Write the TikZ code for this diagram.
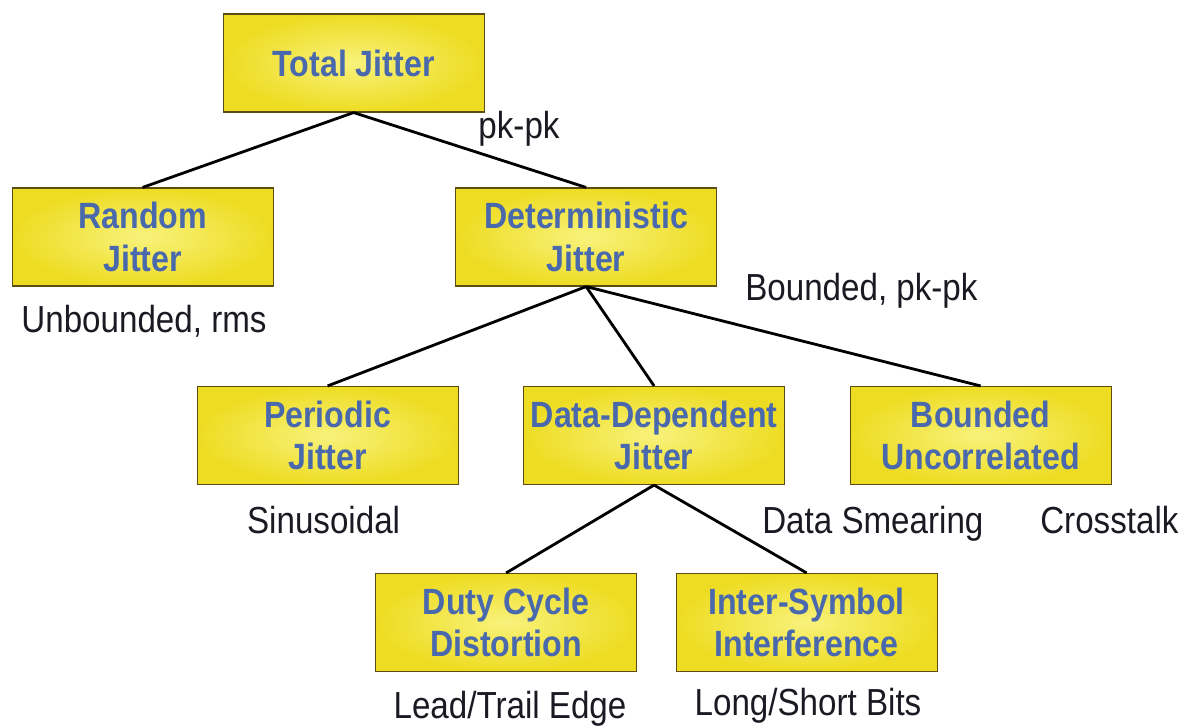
\documentclass[tikz,border=0pt]{standalone}
\usepackage{fontspec}
\usepackage{tikz}
\usetikzlibrary{positioning}
\setmainfont{Liberation Sans}
\newfontfamily\boxfont[FakeStretch=0.88]{Liberation Sans}
\newfontfamily\notefont[FakeStretch=0.88]{Liberation Sans}
\definecolor{boxyellow}{HTML}{EEDC22}
\definecolor{boxlight}{HTML}{F8F27C}
\definecolor{boxedge}{HTML}{5C4E12}
\definecolor{boxblue}{HTML}{4A69AD}
\definecolor{notecolor}{HTML}{1A1A22}

\begin{document}
\begin{tikzpicture}[
    jitbox/.style={draw=boxedge, line width=0.8pt, inner color=boxlight, outer color=boxyellow,
      minimum width=6.525cm, minimum height=2.45cm, align=center, text=boxblue,
      font=\boxfont\bfseries\fontsize{26}{30}\selectfont},
    note/.style={inner sep=0pt, text=notecolor, font=\notefont\fontsize{26.8}{30}\selectfont},
    link/.style={line width=2pt, black}]
      \useasboundingbox (0,0) rectangle (29.6,-18.125);

      \node(TJ) [jitbox] at (8.84,-1.575) {Total Jitter};
      \node(RJ) [jitbox, on grid, below left=4.35cm and 5.275cm of TJ] {Random\\Jitter};
      \node(DJ) [jitbox, on grid, below right=4.35cm and 5.8125cm of TJ] {Deterministic\\Jitter};
      \node(PJ) [jitbox, on grid, below left=4.9625cm and 6.4625cm of DJ] {Periodic\\Jitter};
      \node(DDJ) [jitbox, on grid, below right=4.9625cm and 1.7cm of DJ] {Data-Dependent\\Jitter};
      \node(BUJ) [jitbox, on grid, below right=4.9625cm and 9.8625cm of DJ] {Bounded\\Uncorrelated};
      \node(DCD) [jitbox, on grid, below left=4.675cm and 3.7cm of DDJ] {Duty Cycle\\Distortion};
      \node(ISI) [jitbox, on grid, below right=4.675cm and 3.8125cm of DDJ] {Inter-Symbol\\Interference};

      \draw[link] (TJ.south) -- (RJ.north);
      \draw[link] (TJ.south) -- (DJ.north);
      \draw[link] (DJ.south) -- (PJ.north);
      \draw[link] (DJ.south) -- (DDJ.north);
      \draw[link] (DJ.south) -- (BUJ.north);
      \draw[link] (DDJ.south) -- (DCD.north);
      \draw[link] (DDJ.south) -- (ISI.north);

      % notes under the boxes
      \node(pkpk) [note, anchor=base] at (12.975,-3.45) {pk-pk};
      \node(unb) [note, anchor=base] at (3.6,-8.3) {Unbounded, rms};
      \node(bnd) [note, anchor=base west] at (18.625,-7.5) {Bounded, pk-pk};
      \node(sin) [note, anchor=base] at (8.09,-13.325) {Sinusoidal};
      \node(smear) [note, anchor=base west] at (19.05,-13.325) {Data Smearing};
      \node(xtalk) [note, anchor=base west] at (26.0,-13.325) {Crosstalk};
      \node(edge) [note, anchor=base] at (12.75,-17.95) {Lead/Trail Edge};
      \node(bits) [note, anchor=base] at (20.2,-17.875) {Long/Short Bits};
    \end{tikzpicture}
\end{document}
